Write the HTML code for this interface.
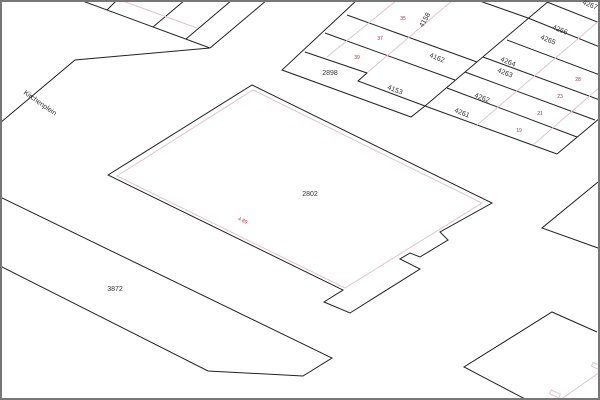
<!DOCTYPE html>
<html><head><meta charset="utf-8"><style>
html,body{margin:0;padding:0;background:#fff;}
svg{display:block;}
text{font-family:"Liberation Sans",sans-serif;}
</style></head><body>
<svg width="600" height="400" viewBox="0 0 600 400" xmlns="http://www.w3.org/2000/svg">
<rect x="0" y="0" width="600" height="400" fill="#fff"/>
<g fill="none" stroke="#222" stroke-width="1">
<polyline points="80,0 210,48 75,60 0,123"/>
<line x1="117" y1="0" x2="107" y2="10"/>
<line x1="185" y1="0" x2="153" y2="27"/>
<line x1="232" y1="0" x2="186" y2="39"/>
<line x1="267" y1="0" x2="210" y2="48"/>
<polyline points="357,0 282,70 411,117 425,106"/>
<line x1="550" y1="0" x2="425" y2="106"/>
<line x1="347" y1="15" x2="477" y2="62"/>
<line x1="325" y1="33" x2="455" y2="80"/>
<polyline points="305,52 367,73 358,81 425,106"/>
<line x1="477" y1="0" x2="528" y2="18"/>
<line x1="528" y1="18" x2="600" y2="47"/>
<line x1="547" y1="2" x2="600" y2="23"/>
<line x1="507" y1="40" x2="600" y2="75"/>
<line x1="483" y1="57" x2="600" y2="100"/>
<line x1="465" y1="72" x2="595" y2="120"/>
<line x1="447" y1="88" x2="577" y2="137"/>
<line x1="425" y1="106" x2="557" y2="154"/>
<line x1="557" y1="154" x2="600" y2="118"/>
<polygon points="108,175 252,85 492,203 440,232 448,240 420,257 410,253 400,259 420,269 350,313 324,302 343,290"/>
<polyline points="0,197 332,358 303,376 208,371 0,266"/>
<polyline points="598,182 542,228 598,248"/>
<polyline points="597,332 552,312 464,367 527,400"/>
</g>
<g fill="none" stroke="#e2c4ca" stroke-width="1">
<line x1="120" y1="0" x2="197" y2="28"/>
<line x1="397" y1="0" x2="327" y2="57"/>
<line x1="453" y1="0" x2="368" y2="72"/>
<line x1="600" y1="20" x2="477" y2="125"/>
<line x1="600" y1="87" x2="533" y2="145"/>
<polyline points="345,288 482,203 253,90 117,176 345,288"/>
<polyline points="560,400 600,372"/>
<rect x="550" y="392" width="10" height="4" transform="rotate(25 555 394)"/>
<rect x="592" y="364" width="8" height="4" transform="rotate(25 596 366)"/>
</g>
<rect x="1" y="1" width="598" height="398" fill="none" stroke="#777" stroke-width="2"/>
<g font-size="7" fill="#333">
<text x="330" y="75" text-anchor="middle">2898</text>
<text x="425" y="22" text-anchor="middle" transform="rotate(-60 425 20)">4158</text>
<text x="437" y="60" text-anchor="middle" transform="rotate(22 437 58)">4162</text>
<text x="395" y="92" text-anchor="middle" transform="rotate(22 395 90)">4153</text>
<text x="590" y="7" text-anchor="middle" transform="rotate(22 590 5)">4267</text>
<text x="560" y="32" text-anchor="middle" transform="rotate(22 560 30)">4266</text>
<text x="548" y="42" text-anchor="middle" transform="rotate(22 548 40)">4265</text>
<text x="508" y="64" text-anchor="middle" transform="rotate(22 508 62)">4264</text>
<text x="505" y="75" text-anchor="middle" transform="rotate(22 505 73)">4263</text>
<text x="482" y="100" text-anchor="middle" transform="rotate(22 482 98)">4262</text>
<text x="462" y="115" text-anchor="middle" transform="rotate(22 462 113)">4261</text>
<text x="310" y="196" text-anchor="middle">2802</text>
<text x="115" y="291" text-anchor="middle">3872</text>
<text x="40" y="105" text-anchor="middle" transform="rotate(35 40 103)">Kirchenplein</text>
</g>
<g font-size="5" fill="#b03040">
<text x="403" y="20" text-anchor="middle">35</text>
<text x="380" y="40" text-anchor="middle">37</text>
<text x="357" y="59" text-anchor="middle">39</text>
<text x="578" y="81" text-anchor="middle">28</text>
<text x="560" y="98" text-anchor="middle">23</text>
<text x="540" y="115" text-anchor="middle">21</text>
<text x="519" y="132" text-anchor="middle">19</text>
<text x="243" y="222" text-anchor="middle" transform="rotate(25 243 220)">4.89</text>
</g>
</svg>
</body></html>
